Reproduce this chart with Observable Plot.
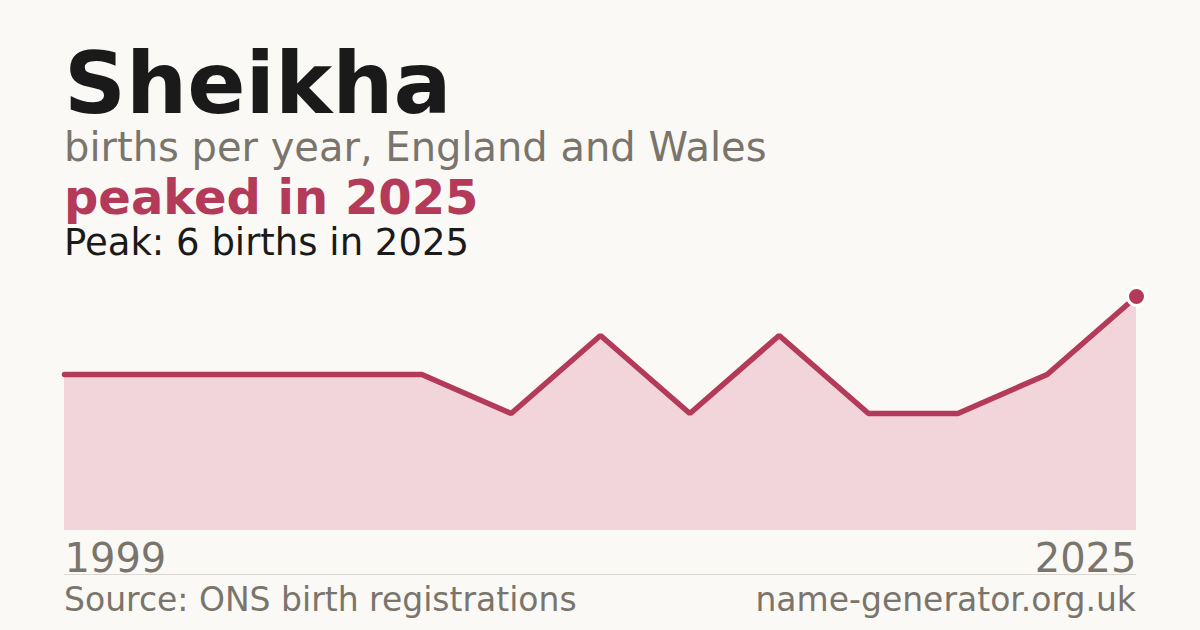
<!DOCTYPE html>
<html>
<head>
<meta charset="utf-8">
<script src="https://cdn.jsdelivr.net/npm/d3@7"></script>
<script src="https://cdn.jsdelivr.net/npm/@observablehq/plot@0.6"></script>
<style>
  html, body { margin: 0; padding: 0; background: #faf9f5; }
  #wrap { position: relative; width: 1200px; height: 630px; overflow: hidden; font-family: "DejaVu Sans", sans-serif; }
  .t { position: absolute; left: 64px; line-height: 0.85; white-space: nowrap; }
  #title { top: 51px; font-size: 86px; line-height: 0.75; font-weight: bold; color: #1a1a1a; }
  #sub { top: 130px; font-size: 40px; color: #7a756c; }
  #peak { top: 177px; font-size: 48px; font-weight: bold; color: #b33a58; }
  #peakline { top: 227px; font-size: 37px; color: #1a1a1a; }
  #src { top: 586px; font-size: 33px; color: #7a756c; }
  #site { top: 586px; font-size: 33px; color: #7a756c; left: auto; right: 64px; }
  #chart { position: absolute; left: 0; top: 270px; }
</style>
</head>
<body>
<div id="wrap">
  <div class="t" id="title">Sheikha</div>
  <div class="t" id="sub">births per year, England and Wales</div>
  <div class="t" id="peak">peaked in 2025</div>
  <div class="t" id="peakline">Peak: 6 births in 2025</div>
  <div id="chart"></div>
  <div class="t" id="src">Source: ONS birth registrations</div>
  <div class="t" id="site">name-generator.org.uk</div>
</div>
<script>
const births = [4, 4, 4, 4, 4, 3, 5, 3, 5, 3, 3, 4, 6];
const axisLabels = ["1999", "2025"];
const peakValue = 6;

const data = births.map((v, i) => ({i, v}));
const last = data[data.length - 1];

const chart = Plot.plot({
  width: 1200,
  height: 310,
  marginLeft: 64,
  marginRight: 64,
  marginTop: 26,
  marginBottom: 50,
  style: {background: "transparent", fontFamily: "DejaVu Sans, sans-serif", overflow: "visible"},
  x: {domain: [0, births.length - 1], axis: null},
  y: {domain: [0, peakValue], axis: null},
  marks: [
    Plot.areaY(data, {x: "i", y: "v", fill: "#f2d5da"}),
    Plot.lineY(data, {x: "i", y: "v", stroke: "#b33a58", strokeWidth: 5.5, strokeLinejoin: "miter"}),
    Plot.dot([last], {x: "i", y: "v", r: 9, fill: "#b33a58", stroke: "#ffffff", strokeWidth: 3}),
    Plot.ruleY([0], {dy: 44, stroke: "#dcd9d2", strokeWidth: 1}),
    Plot.text([axisLabels[0]], {x: () => 0, frameAnchor: "bottom", dy: 41, text: d => d, textAnchor: "start", fontSize: 40, fill: "#7a756c"}),
    Plot.text([axisLabels[1]], {x: () => births.length - 1, frameAnchor: "bottom", dy: 41, text: d => d, textAnchor: "end", fontSize: 40, fill: "#7a756c"})
  ]
});
document.getElementById("chart").appendChild(chart);
</script>
</body>
</html>
